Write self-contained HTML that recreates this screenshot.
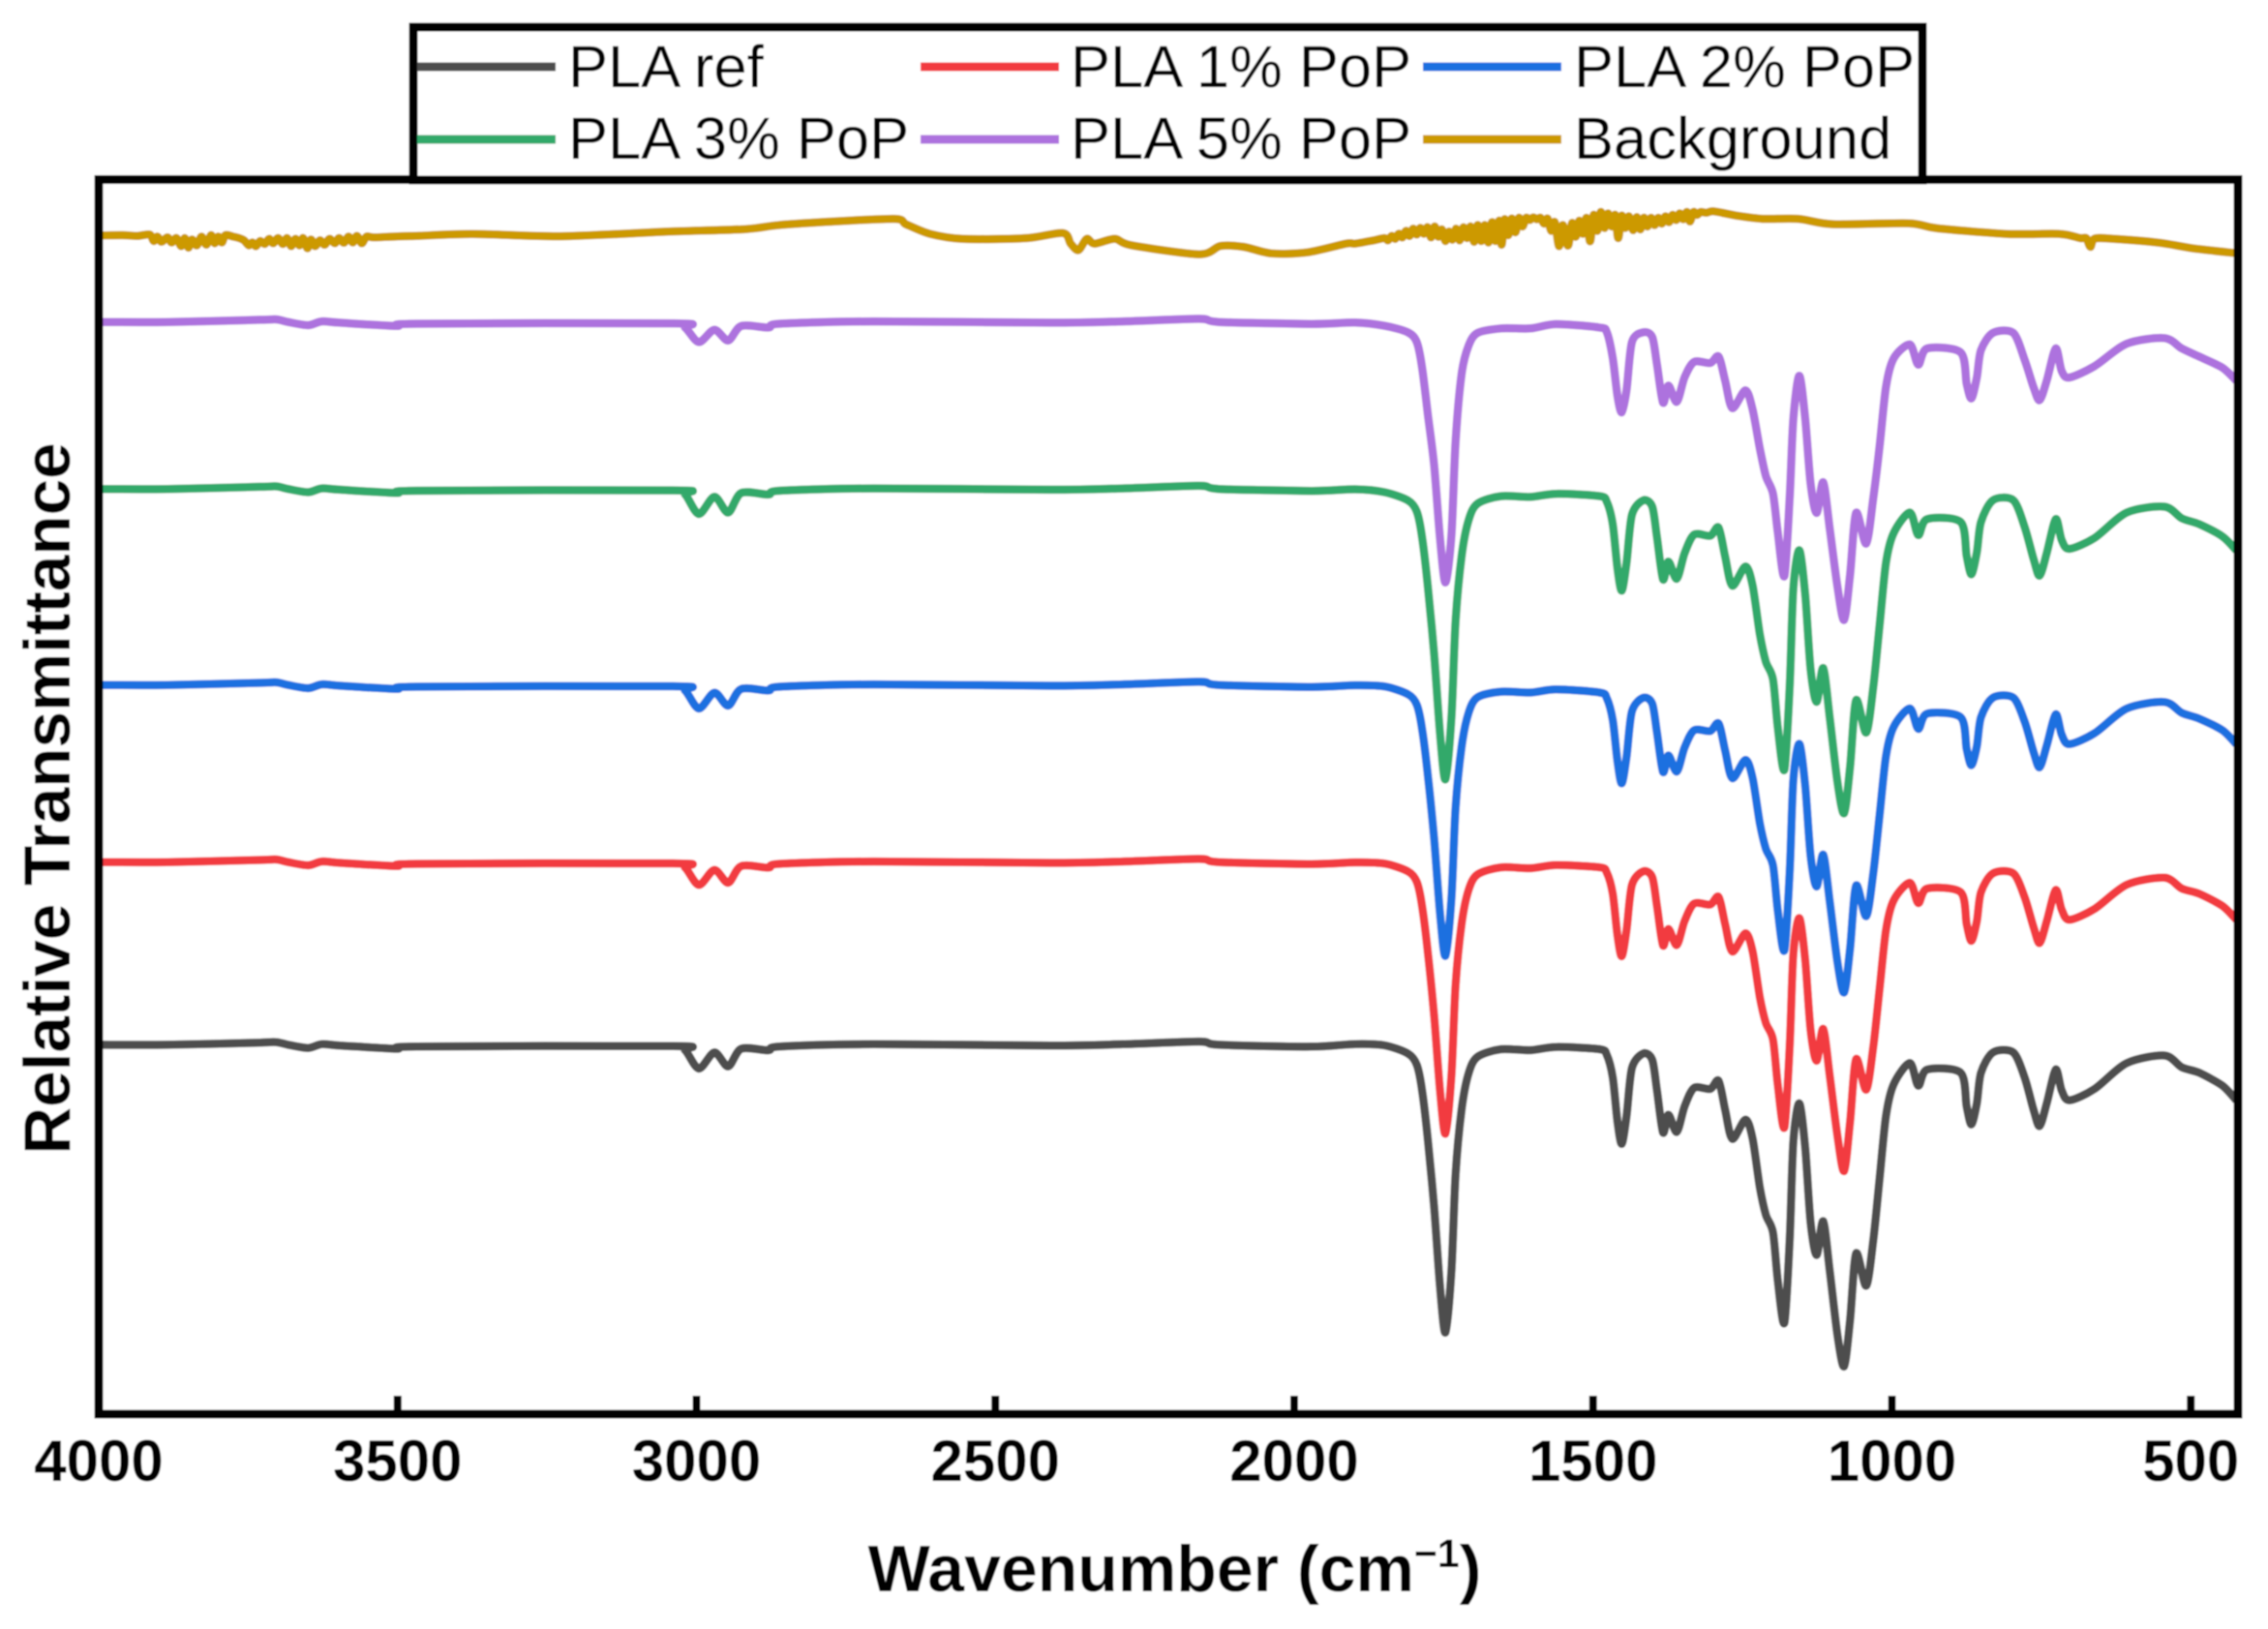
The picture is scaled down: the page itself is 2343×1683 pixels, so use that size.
<!DOCTYPE html>
<html lang="en">
<head>
<meta charset="utf-8">
<title>FTIR spectra</title>
<style>
html,body{margin:0;padding:0;background:#fff;}
svg{display:block;font-family:"Liberation Sans",sans-serif;}
</style>
</head>
<body>
<svg id="chart" xmlns="http://www.w3.org/2000/svg" width="2343" height="1683" viewBox="0 0 2343 1683">
<defs><filter id="soft" x="-2%" y="-2%" width="104%" height="104%"><feGaussianBlur stdDeviation="0.7"/></filter></defs>
<g id="root" filter="url(#soft)">
<rect x="0" y="0" width="2343" height="1683" fill="#fff"/>
<g id="series-layer"></g>
<rect x="102" y="185.5" width="2210" height="1275.5" fill="none" stroke="#000" stroke-width="9"/>
<g id="tick-layer"></g>
<text x="72" y="825" transform="rotate(-90 72 825)" text-anchor="middle" font-size="67.5" font-weight="700" fill="#000">Relative Transmittance</text>
<text x="1213.5" y="1644" text-anchor="middle" font-size="68" font-weight="700" fill="#000">Wavenumber (cm<tspan dy="-25" font-size="41">−1</tspan><tspan dy="25">)</tspan></text>
<g>
<rect x="427" y="28" width="1559" height="158" fill="#fff" stroke="#000" stroke-width="9"/>
<rect x="431" y="64.5" width="143" height="9" fill="#4d4d4d"/>
<text x="587" y="90" font-size="61.5" fill="#000">PLA ref</text>
<rect x="951" y="64.5" width="143" height="9" fill="#f23b40"/>
<text x="1106" y="90" font-size="61.5" fill="#000">PLA 1% PoP</text>
<rect x="1470" y="64.5" width="143" height="9" fill="#1f6fe0"/>
<text x="1626" y="90" font-size="61.5" fill="#000">PLA 2% PoP</text>
<rect x="431" y="139.5" width="143" height="9" fill="#33a96b"/>
<text x="587" y="164" font-size="61.5" fill="#000">PLA 3% PoP</text>
<rect x="951" y="139.5" width="143" height="9" fill="#ad72de"/>
<text x="1106" y="164" font-size="61.5" fill="#000">PLA 5% PoP</text>
<rect x="1470" y="139.5" width="143" height="9" fill="#cc9900"/>
<text x="1626" y="164" font-size="61.5" fill="#000">Background</text>
</g>
</g>
</svg>
<script>
const wavenumbers = [4000,3885,3730,3703,3683,3650,3627,3596,3502,3468,3039,3019,2996,2970,2947,2925,2880,2861,2703,2408,2287,2159,2126,1971,
1898,1849,1810,1795,1786,1776,1766,1756,1747,1737,1730,1720,1708,1693,1654,1605,1562,1489,1477,1467,1459,1452,1444,1435,1416,1401,1393,1383,1374,1360,1347,1331,1304,1290,1279,1267,1245,1233,1221,1211,1199,1191,1180,1171,1165,1155,1145,1136,1126,1115,1104,1091,1080,1070,1060,1043,1031,1021,1010,997,970,956,941,885,875,867,858,851,831,797,778,763,753,741,726,716,703,661,607,544,515,486,447,424];

const plaRef = [254.4,254.4,255.9,256.2,254.4,252.2,254.8,253.9,251.7,253.2,253.5,250.6,238,249.1,239.5,251.7,250.6,253.2,254.8,253.9,254.8,256.6,254.4,253.1,
254.9,254,248.4,240.7,222.9,187.3,143,87.3,56.2,98.4,165,209.6,235,246.2,251.3,250.7,252.9,251.3,247.3,231.8,200.7,186.2,205.1,238.4,248.4,244,222.9,194,206.2,194.4,211.8,224.7,224,229.6,209.6,189.6,202.9,189.6,156.2,137.3,125.1,91.8,62.9,120.7,187.3,214,182.9,131.8,109.6,132.9,98.4,54,32.9,65.1,110.7,88.4,120.7,160.7,205.1,227.3,241.8,226.2,237.3,235.1,211.8,199.6,214,235.1,249.1,249.1,231.8,209.6,198.4,214,237.3,222.9,216.2,224,241.8,247,238.9,235.1,226.2,216.2];

const pla1 = [380.2,380.2,381.7,382,380.2,378,380.6,379.7,377.5,379,379.3,376.4,364.5,374.9,366,377.5,376.4,379,380.6,379.7,380.6,382.4,380.2,378.9,
380,379.2,373.9,366.7,349.9,316.5,274.8,222.5,193.2,232.9,295.5,337.4,361.3,371.8,376.6,376,378.1,376.6,372.9,358.3,329,315.4,333.2,364.5,373.9,369.8,349.9,322.8,334.2,323.1,339.5,351.6,351,356.2,337.4,318.6,331.1,318.6,287.2,269.5,258,226.7,197.5,253.9,316.5,341.6,312.3,264.3,243.4,265.3,232.9,191.2,167.5,201.6,244.5,223.5,253.9,291.5,333.2,354,366,352,362,359.5,337.5,326,339.5,359.5,372.5,372.5,356,335.4,324.5,339.5,361,347.5,340.5,348,364.7,369.5,362,358.4,350,340.6];

const pla2 = [502.2,502.2,503.7,504,502.2,500,502.6,501.7,499.5,501,501.3,498.4,486,496.9,488,499.5,498.4,501,502.6,501.7,502.6,504.4,502.2,500.9,
502,501.2,495.9,488.7,471.9,438.5,396.8,344.5,315.7,354.9,417.5,459.4,483.3,493.8,497.6,497,499.1,497,493,478,449,434.5,452.5,484,493.4,489.3,469.4,442.3,453.7,442.6,459,471,470.5,475.7,457,438,450.6,438,407,389.5,378,346.7,319.5,374,436.5,461.6,432.3,384.3,363.4,385.3,352.9,311,290.5,321,364,343,373.5,411,453,473.5,486,472,482.5,480,458,447,460,480,493.5,493.5,477,456,445.5,460.5,482,468,461.5,469,486,490.5,483,479,471,461.5];

const pla3 = [637.2,637.2,638.7,639,637.2,635,637.6,636.7,634.5,636,636.3,633.4,620,631.9,621,634.5,633.4,636,637.6,636.7,637.6,639.4,637.2,635.9,
637,635,629.4,621.7,603.9,568.3,524,468.3,437.2,479.4,546,590.6,616,627.2,632.3,631.7,633.9,632.3,628.3,612.8,581.7,567.2,586.1,619.4,629.4,625,603.9,575,587.2,575.4,592.8,605.7,605,610.6,590.6,570.6,583.9,570.6,537.2,518.3,506.1,472.8,443.9,501.7,568.3,595,563.9,512.8,490.6,513.9,479.4,435,413.9,446.1,491.7,469.4,501.7,541.7,586.1,607,621,605.5,616.5,614.5,591,578.5,593.5,614.5,629.5,629.5,611,589,577.5,593,616.5,602,596,603.5,621,625,617,613,604.5,595];

const pla5 = [752.2,752.2,753.7,754,752.2,750,752.6,751.7,749.5,751,751.3,748.4,738.4,746.9,739.5,749.5,748.4,751,752.6,751.7,752.6,754.4,752.2,750.9,
751.8,749.6,745.1,738.4,720.7,687.3,654,602.9,572.9,605.1,669.6,716.2,736.2,744.7,747.8,747.8,750.7,748.4,745.1,727.3,700.7,690,705.1,738.4,745.1,741.8,722.9,696.7,708.4,697.3,714,724.7,724,728.4,711.8,692.9,705.1,691.8,665.1,646.2,634,607.3,577.3,631.8,685.1,715.1,685.1,640.7,620.7,641.8,609.6,569.6,547,578.4,620.7,599.6,631.8,665.1,707.3,727.3,736.7,722.9,734,731.3,709.6,699.6,714,732.9,744.7,744.7,726.2,707.3,698.4,711.8,734,718.4,714,721.8,737.3,741.1,734,728.4,720.7,711.8];

const backgroundWavenumbers = [4000,3960,3935,3915,3908,3902,3895,3885,3878,3870,3862,3856,3850,3844,3836,3828,3820,3812,3806,3800,3794,3788,3775,3765,3757,3749,3743,3737,3730,3722,3715,3708,3700,3692,3685,3678,3671,3664,3658,3651,3645,3638,3630,3622,3614,3605,3598,3590,3582,3575,3568,3560,3552,3540,3500,3463,3374,3227,3052,2918,2864,2784,2669,2649,2609,2555,2448,2387,2374,2361,2347,2334,2300,2273,2159,2123,2085,2038,1978,1913,1898,1868,
1849,1843,1837,1831,1825,1819,1813,1807,1801,1795,1789,1783,1777,1771,1765,1759,1753,1747,1741,1735,1729,1723,1717,1711,1705,1699,1693,1687,1681,1675,1669,1663,1657,1653,1648,1642,1636,1630,1624,1618,1612,1606,1600,1594,1588,1582,1576,1570,1564,1557,1551,1545,1541,1535,1529,1523,1517,1511,1505,1499,1493,1487,1481,1475,1469,1463,1458,1452,1446,1440,1433,1427,1421,1415,1409,1403,1397,1391,1385,1379,1373,1367,1361,1355,1349,1343,1338,1332,1326,1320,1310,1298,1260,
1216,1157,1099,972,924,807,719,685,675,668,661,632,554,495,424];

const backgroundValues = [811.8,812,811.5,812.5,808,811,807.5,810.5,807,810,804.5,810,803.5,809,805,811,805.5,812,806.5,811,807,812,811,810,808.5,805,807,804.5,808,806,809.5,806.5,810,806,810,804.5,809.5,805,810,803,809,804.5,808.5,805.5,809.5,806.5,810,806.8,811,807,811.5,806.5,811,810.5,811.2,811.6,812.9,811.3,814.4,816.2,818.9,821.1,823.3,819.5,812.9,809.5,810,813.5,806.2,801.7,809.5,806.2,809.5,805.1,798.9,804.6,804,799.5,800.2,806.2,806.2,808.4,
810,808.5,811.5,809.5,813,810.5,815,811.5,816.5,812.5,817,813,817.5,810.5,818,811,816,808,814.5,809,816.5,808.5,817.5,810,818,807.5,819,808,819,807,821,808,822,805.5,823,812,823.5,814,824,818,824,822.5,824.3,823,824,820,823.5,815,821,804.5,819,808,805.5,820.5,811,822,813,824,807.8,826,815,828,817,827,818,826,810,825.5,817,825,815.5,824.5,816,824,818,824,819,824,820,825,821,826,822.5,827,823,828,821.5,828,826,828,827.5,828.5,825.5,
823.3,823.3,819.6,820.2,816.7,812.9,812.9,810,810,804,809.6,809.6,806.9,802.9,799.6];

const xTicks = [4000,3500,3000,2500,2000,1500,1000,500];

const SVG_NS = 'http://www.w3.org/2000/svg';
function xScale(w){ return 102 + (4000 - w) * 0.6175; }
function yScale(v){ return 1461 - 1.5 * v; }

function smoothPath(xs, ys){
  const px = xs.map(xScale);
  const py = ys.map(yScale);
  let d = 'M' + px[0].toFixed(1) + ' ' + py[0].toFixed(1);
  for (let i = 0; i < px.length - 1; i++) {
    const a = Math.max(i - 1, 0), b = Math.min(i + 2, px.length - 1);
    const c1x = px[i] + (px[i + 1] - px[a]) / 7, c1y = py[i] + (py[i + 1] - py[a]) / 7;
    const c2x = px[i + 1] - (px[b] - px[i]) / 7, c2y = py[i + 1] - (py[b] - py[i]) / 7;
    d += 'C' + c1x.toFixed(1) + ' ' + c1y.toFixed(1) + ' ' + c2x.toFixed(1) + ' ' + c2y.toFixed(1) + ' ' + px[i + 1].toFixed(1) + ' ' + py[i + 1].toFixed(1);
  }
  return d;
}

function drawSeries(name, color, xs, ys, width){
  const line = document.createElementNS(SVG_NS, 'path');
  line.setAttribute('d', smoothPath(xs, ys));
  line.setAttribute('fill', 'none');
  line.setAttribute('stroke', color);
  line.setAttribute('stroke-width', width);
  line.setAttribute('stroke-linejoin', 'round');
  line.setAttribute('stroke-linecap', 'butt');
  
  
  document.getElementById('series-layer').appendChild(line);
}

drawSeries('series-pla-ref', '#4d4d4d', wavenumbers, plaRef, 8.5);
drawSeries('series-pla-1', '#f23b40', wavenumbers, pla1, 8.5);
drawSeries('series-pla-2', '#1f6fe0', wavenumbers, pla2, 8.5);
drawSeries('series-pla-3', '#33a96b', wavenumbers, pla3, 8.5);
drawSeries('series-pla-5', '#ad72de', wavenumbers, pla5, 8.5);
drawSeries('series-background', '#cc9900', backgroundWavenumbers, backgroundValues, 8.5);

xTicks.forEach(function(t){
  const layer = document.getElementById('tick-layer');
  const mark = document.createElementNS(SVG_NS, 'line');
  mark.setAttribute('x1', xScale(t));
  mark.setAttribute('x2', xScale(t));
  mark.setAttribute('y1', 1457);
  mark.setAttribute('y2', 1442);
  mark.setAttribute('stroke', '#000');
  mark.setAttribute('stroke-width', '8');
  
  
  layer.appendChild(mark);
  const label = document.createElementNS(SVG_NS, 'text');
  label.setAttribute('x', xScale(t));
  label.setAttribute('y', 1530);
  label.setAttribute('text-anchor', 'middle');
  label.setAttribute('font-size', '60');
  label.setAttribute('font-weight', '700');
  label.setAttribute('fill', '#000');
  
  
  label.textContent = String(t);
  layer.appendChild(label);
});
</script>
</body>
</html>
